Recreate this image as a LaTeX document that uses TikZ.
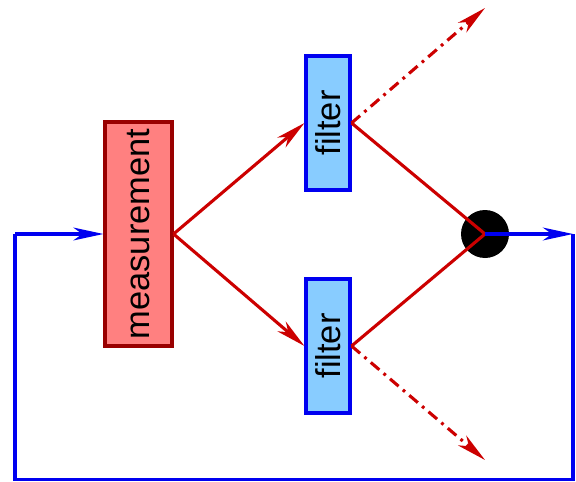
\documentclass[tikz,border=0pt]{standalone}
\usepackage{fontspec}
\setmainfont{Liberation Sans}
\usepackage{xcolor}
\usetikzlibrary{positioning,arrows.meta}

\definecolor{measred}{HTML}{FF8080}
\definecolor{measborder}{HTML}{990000}
\definecolor{linered}{HTML}{CC0000}
\definecolor{lineblue}{HTML}{0000F0}
\definecolor{filterblue}{HTML}{88CCFF}

\begin{document}
\begin{tikzpicture}[>={Stealth[length=0.75cm,width=0.32cm,inset=0.22cm]},line width=2.2pt]
  \tikzstyle{meas}=[rectangle,draw=measborder,fill=measred,minimum width=1.675cm,minimum height=5.6cm,inner sep=0pt]
  \tikzstyle{filterbox}=[rectangle,draw=lineblue,fill=filterblue,minimum width=1.1cm,minimum height=3.35cm,inner sep=0pt]
  \tikzstyle{junction}=[circle,fill=black,minimum size=1.2cm,inner sep=0pt]
  \tikzstyle{redline}=[draw=linered]
  \tikzstyle{blueline}=[draw=lineblue]
  \tikzstyle{leak}=[draw=linered,dash pattern=on 8pt off 4pt on 2pt off 4pt]

  \useasboundingbox (0,0) rectangle (14.4,12.025);

  \node[meas] (m) at (3.4625,6.175) {\rotatebox{90}{\fontsize{24.5}{26}\selectfont measurement}};
  \node[filterbox] (f1) at (8.2,8.95) {\rotatebox{90}{\fontsize{24.5}{26}\selectfont filter}};
  \node[filterbox] (f2) at (8.2,3.375) {\rotatebox{90}{\fontsize{24.5}{26}\selectfont filter}};
  \node[junction] (j) at (12.125,6.175) {};

  \coordinate (in) at (0.375,6.175);
  \coordinate (bl) at (0.375,0.04);
  \coordinate (br) at (14.325,0.04);
  \coordinate (out) at (14.325,6.175);
  \coordinate (up) at (12.125,11.825);
  \coordinate (down) at (12.125,0.525);

  % measurement splits into the two filters
  \draw[redline,->] (m.east) -- (f1.west);
  \draw[redline,->] (m.east) -- (f2.west);
  \draw[redline] (f1.east) -- (j.center);
  \draw[redline] (f2.east) -- (j.center);
  \draw[leak,->] (f1.east) -- (up);
  \draw[leak,->] (f2.east) -- (down);

  % feedback loop
  \draw[blueline,->] (j.center) -- (out);
  \draw[blueline] (out) -- (br) -- (bl) -- (in);
  \draw[blueline,->] (in) -- (m.west);

\end{tikzpicture}
\end{document}
